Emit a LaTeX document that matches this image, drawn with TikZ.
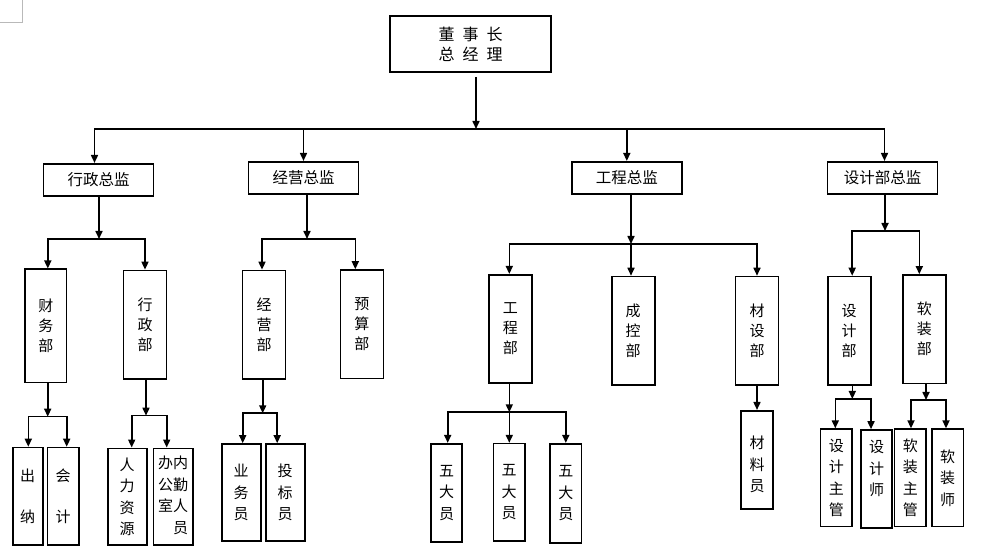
\documentclass[tikz,border=0pt]{standalone}
\usepackage{fontspec}
\newfontfamily\cjk{Noto Sans CJK SC}
\usetikzlibrary{arrows.meta, positioning, calc}

\begin{document}
\begin{tikzpicture}[
    x=1pt, y=-1pt,
    box/.style={draw, line width=1.6pt, inner sep=0pt, align=center, font=\cjk\fontsize{15.5}{20}\selectfont},
    head/.style={box, minimum width=110pt, minimum height=32.5pt},
    dept/.style={box, minimum width=43pt, minimum height=108.5pt, font=\cjk\fontsize{15}{20}\selectfont},
    staff/.style={box, minimum width=31.5pt, minimum height=97.5pt, font=\cjk\fontsize{15}{21.5}\selectfont},
    arr/.style={-{Triangle[length=8pt, width=7pt]}, line width=1.6pt},
    bus/.style={line width=1.6pt}
]
\useasboundingbox (0,0) rectangle (986,553);

% page corner mark
\draw[gray!55, line width=0.6pt] (0,22) -- (22,22) -- (22,0);

% top
\node[box, minimum width=161pt, minimum height=56pt, font=\cjk\fontsize{16}{20}\selectfont] (ceo) at (470.5,44)
    {董\hspace{0.5em}事\hspace{0.5em}长\\总\hspace{0.5em}经\hspace{0.5em}理};

% directors
\node[head] (xzzj) at (98.5,180) {行政总监};
\node[head] (jyzj) at (303.5,178) {经营总监};
\node[head] (gczj) at (626.8,178) {工程总监};
\node[head] (sjzj) at (882.5,178) {设计部总监};

% departments
\node[dept, minimum width=41.7pt, minimum height=113.4pt] (cwb) at (45.8,326) {财\\务\\部};
\node[dept] (xzb) at (145,324.7) {行\\政\\部};
\node[dept] (jyb) at (264,324.7) {经\\营\\部};
\node[dept] (ysb) at (361.8,324.3) {预\\算\\部};
\node[dept] (gcb) at (510.3,329) {工\\程\\部};
\node[dept] (ckb) at (633.2,330.8) {成\\控\\部};
\node[dept] (csb) at (757,330.8) {材\\设\\部};
\node[dept] (sjb) at (849.2,330.8) {设\\计\\部};
\node[dept] (rzb) at (924.3,329.2) {软\\装\\部};

% staff
\node[staff, minimum width=30pt] (cn) at (27.7,496.3) {出\\[20pt]纳};
\node[staff, minimum width=31.7pt] (kj) at (63.2,496.3) {会\\[20pt]计};
\node[staff, minimum width=39pt, minimum height=96.7pt] (rlzy) at (127.2,496.7) {人\\力\\资\\源};
\node[staff, minimum width=39.4pt, minimum height=96.7pt] (bgs) at (173,496.7)
    {\renewcommand\arraystretch{1}\begin{tabular}{@{}c@{}c@{}}办&内\\公&勤\\室&人\\&员\end{tabular}};
\node[staff, minimum width=39pt, minimum height=97pt] (ywy) at (241.2,492.5) {业\\务\\员};
\node[staff, minimum width=39pt, minimum height=97pt] (tby) at (285.2,492.5) {投\\标\\员};
\node[staff, minimum height=98pt] (wd1) at (446.5,492.7) {五\\大\\员};
\node[staff] (wd2) at (509.2,492.4) {五\\大\\员};
\node[staff, minimum height=99pt] (wd3) at (565.8,493.2) {五\\大\\员};
\node[staff, minimum height=98.3pt] (cly) at (757,459.9) {\mbox{}\\材\\料\\员};
\node[staff] (sjzg) at (836.3,477.9) {设\\计\\主\\管};
\node[staff, minimum height=98pt] (sjs) at (876.5,479) {设\\计\\师\\\mbox{}};
\node[staff] (rzzg) at (910.3,477.9) {软\\装\\主\\管};
\node[staff] (rzs) at (947.7,477.9) {软\\装\\师};

% bus points
\coordinate (b0) at (476,129);
\coordinate (b1) at (99,239);
\coordinate (b2) at (307,239);
\coordinate (b3) at (631,244);
\coordinate (b4) at (885,231);
\coordinate (b5) at (47.7,416.7);
\coordinate (b6) at (146,415.7);
\coordinate (b7) at (262.7,413.3);
\coordinate (b8) at (509.3,412.3);
\coordinate (b9) at (852.3,399);
\coordinate (b10) at (926,400);

% top level
\draw[arr] ([yshift=-4pt]ceo.south -| b0) -- (b0);
\draw[arr] (b0) -| ([xshift=-4pt]xzzj.north);
\draw[arr] (b0) -| (jyzj);
\draw[arr] (b0) -| (gczj);
\draw[arr] (b0) -| ([xshift=2pt]sjzj.north);

% 行政总监
\draw[arr] (xzzj.south -| b1) -- (b1);
\draw[arr] (b1) -| ([xshift=2pt]cwb.north);
\draw[arr] (b1) -| (xzb);

% 经营总监
\draw[arr] (jyzj.south -| b2) -- (b2);
\draw[arr] (b2) -| ([xshift=-2pt]jyb.north);
\draw[arr] (b2) -| ([xshift=-6.5pt]ysb.north);

% 工程总监
\draw[arr] (gczj.south -| b3) -- (b3);
\draw[arr] (b3) -| ([xshift=-1pt]gcb.north);
\draw[arr] (b3) -- (b3 |- ckb.north);
\draw[arr] (b3) -| (csb);

% 设计部总监
\draw[arr] (sjzj.south -| b4) -- (b4);
\draw[arr] (b4) -| ([xshift=3pt]sjb.north);
\draw[arr] (b4) -| ([xshift=-5pt]rzb.north);

% staff links
\draw[arr] (cwb.south -| b5) -- (b5);
\draw[arr] (b5) -| ([xshift=0.6pt]cn.north);
\draw[arr] (b5) -| ([xshift=3.5pt]kj.north);

\draw[arr] (xzb.south -| b6) -- (b6);
\draw[arr] (b6) -| ([xshift=4.5pt]rlzy.north);
\draw[arr] (b6) -| ([xshift=-6.3pt]bgs.north);

\draw[arr] (jyb.south -| b7) -- (b7);
\draw[arr] (b7) -| ([xshift=1.5pt]ywy.north);
\draw[arr] (b7) -| ([xshift=-8pt]tby.north);

\draw[arr] (gcb.south -| b8) -- (b8);
\draw[arr] (b8) -| ([xshift=1.2pt]wd1.north);
\draw[arr] (b8) -- (b8 |- wd2.north);
\draw[arr] (b8) -| (wd3);

\draw[arr] (csb) -- (cly);

\draw[arr] (sjb.south -| b9) -- (b9);
\draw[arr] (b9) -| ([xshift=-1pt]sjzg.north);
\draw[arr] (b9) -| ([xshift=-5.5pt]sjs.north);

\draw[arr] (rzb.south -| b10) -- (b10);
\draw[arr] (b10) -| ([xshift=0.7pt]rzzg.north);
\draw[arr] (b10) -| ([xshift=-1.7pt]rzs.north);

\end{tikzpicture}
\end{document}
